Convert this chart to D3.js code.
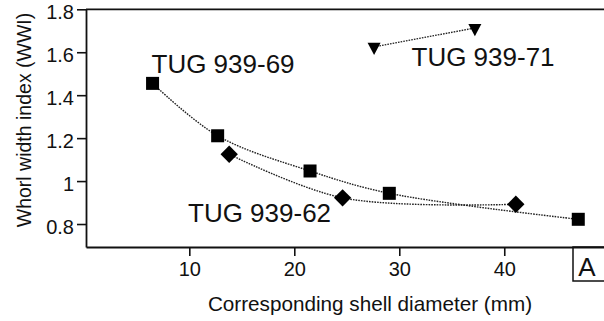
<!DOCTYPE html>
<html>
<head>
<meta charset="utf-8">
<script src="https://cdn.jsdelivr.net/npm/d3@7"></script>
<style>
  html, body { margin: 0; padding: 0; background: #fff; }
  svg { display: block; font-family: "Liberation Sans", Arial, sans-serif; }
</style>
</head>
<body>
<svg id="chart" width="604" height="321"></svg>
<script>
// Whorl width index vs. corresponding shell diameter, three specimens
const tug69Diam = [6.5, 12.7, 21.5, 29.05, 47.05];
const tug69WWI  = [1.455, 1.211, 1.047, 0.943, 0.822];

const tug62Diam = [13.8, 24.6, 41.1];
const tug62WWI  = [1.125, 0.922, 0.892];

const tug71Diam = [27.6, 37.2];
const tug71WWI  = [1.625, 1.713];

const xTicks = [10, 20, 30, 40];
const yTicks = [0.8, 1.0, 1.2, 1.4, 1.6, 1.8];
const yTickLabels = ["0.8", "1", "1.2", "1.4", "1.6", "1.8"];

const svg = d3.select("#chart");
const ink = "#111";

const x = d3.scaleLinear().domain([0.16, 49.5]).range([86, 604]);
const y = d3.scaleLinear().domain([0.693, 1.8]).range([247, 9.3]);

// axes
const gx = svg.append("g").attr("transform", `translate(0,${y.range()[0]})`)
  .call(d3.axisBottom(x).tickValues(xTicks).tickSize(9).tickSizeOuter(0).tickPadding(4));
const gy = svg.append("g").attr("transform", `translate(${x.range()[0]},0)`)
  .call(d3.axisLeft(y).tickValues(yTicks).tickSize(9).tickSizeOuter(0).tickPadding(3)
    .tickFormat((d, i) => yTickLabels[i]));

[gx, gy].forEach(g => {
  g.selectAll("path.domain").attr("stroke", ink).attr("stroke-width", 1.8);
  g.selectAll(".tick line").attr("stroke", ink).attr("stroke-width", 1.6);
  g.selectAll(".tick text").attr("fill", ink).style("font-size", "20px")
    .style("font-family", "'Liberation Sans', Arial, sans-serif");
});
gy.selectAll(".tick text").attr("dy", "0.45em");
gx.selectAll(".tick text").attr("dy", "0.78em");

// top frame line
svg.append("line")
  .attr("x1", x.range()[0]).attr("x2", x.range()[1])
  .attr("y1", y(1.8)).attr("y2", y(1.8))
  .attr("stroke", ink).attr("stroke-width", 1.8);

// panel letter box, open at the right edge
svg.append("path")
  .attr("d", `M604,${y.range()[0]} H573 V281 H604`)
  .attr("fill", "none").attr("stroke", ink).attr("stroke-width", 1.5);
svg.append("text").attr("x", 587).attr("y", 276).attr("text-anchor", "middle")
  .style("font-size", "26px").attr("fill", ink).text("A");

// axis titles
svg.append("text").attr("x", 370).attr("y", 311).attr("text-anchor", "middle")
  .style("font-size", "20.7px").attr("fill", ink).text("Corresponding shell diameter (mm)");
svg.append("text").attr("transform", "translate(31,120) rotate(-90)")
  .attr("text-anchor", "middle").style("font-size", "19.5px").attr("fill", ink)
  .text("Whorl width index (WWI)");

// dotted connecting curves
const line = d3.line().x(d => x(d[0])).y(d => y(d[1])).curve(d3.curveCatmullRom.alpha(0.5));
const series = [
  d3.zip(tug69Diam, tug69WWI),
  d3.zip(tug62Diam, tug62WWI),
  d3.zip(tug71Diam, tug71WWI)
];
series.forEach(pts => {
  svg.append("path").datum(pts).attr("d", line)
    .attr("fill", "none").attr("stroke", "#222").attr("stroke-width", 1.4)
    .attr("stroke-dasharray", "1.6,1.1");
});

// markers
svg.append("g").selectAll("rect").data(series[0]).join("rect")
  .attr("x", d => x(d[0]) - 6.5).attr("y", d => y(d[1]) - 6.5)
  .attr("width", 13).attr("height", 13).attr("fill", "#000");

const diamond = d3.symbol().type(d3.symbolSquare).size(150);
svg.append("g").selectAll("path").data(series[1]).join("path")
  .attr("d", diamond)
  .attr("transform", d => `translate(${x(d[0])},${y(d[1])}) rotate(45)`)
  .attr("fill", "#000");

// downward triangles, centroid on the data point
svg.append("g").selectAll("path").data(series[2]).join("path")
  .attr("d", "M-6.5,-4.1 L6.5,-4.1 L0,8.2 Z")
  .attr("transform", d => `translate(${x(d[0])},${y(d[1])})`)
  .attr("fill", "#000");

// specimen labels
const labels = [
  { text: "TUG 939-69", px: 151.5, py: 73.3 },
  { text: "TUG 939-62", px: 188, py: 221.7 },
  { text: "TUG 939-71", px: 411.5, py: 66 }
];
svg.append("g").selectAll("text").data(labels).join("text")
  .attr("x", d => d.px).attr("y", d => d.py)
  .style("font-size", "26px").attr("fill", ink).text(d => d.text);
</script>
</body>
</html>
